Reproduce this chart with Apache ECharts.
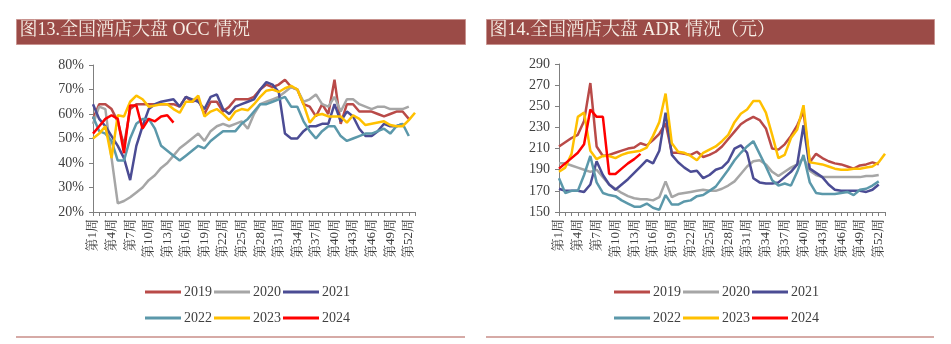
<!DOCTYPE html>
<html>
<head>
<meta charset="utf-8">
<script src="https://cdn.jsdelivr.net/npm/echarts@6/dist/echarts.min.js"></script>
<style>
  html, body { margin: 0; padding: 0; background: #fff; }
  #chart { width: 951px; height: 344px; }
</style>
</head>
<body>
<div id="chart"></div>
<script>
// Week categories (2023 runs to a 53rd week)
const weeks = Array.from({ length: 53 }, (_, i) => '第' + (i + 1) + '周');
const years = ['2019', '2020', '2021', '2022', '2023', '2024'];

// Hotel occupancy rate (OCC, %)
const occ2019 = [58,64,64,62,57,47,62,64,64,64,64,64,64,64,63,67,65,66,60,65,65,61,63,66,66,66,67,70,72,71,72,74,71,70,64,63,59,64,60,74,56,64,64,61,61,61,60,59,60,61,61,58];
const occ2020 = [56,63,62,42,23.5,24.5,26,28,30,33,35,38,40,43,46,48,50,52,49,53,55,56,55,56,57,54,60,64,65,66,67,69,71,70,65,66,68,64,63,67,61,66,66,64,63,62,63,63,62,62,62,63];
const occ2021 = [64,58,55,51,47,42,33,47,55,62,64,65,65.5,66,63,67,66,65,62,67,68,62,60,63,64,65,66,70,73,72,69,52,50,50,53,55,55,56,56,64,57,61,59,54,51,51,53,56,55,55,56];
const occ2022 = [59,53,52,49,41,41,50,56,58,58,54,47,45,43,41,43,45,47,46,49,51,53,53,53,56,58,61,64,64,65,66,67,63,63,57,53,50,53,55,55,51,49,50,51,52,52,53,54,52,55,56,51];
const occ2023 = [50,52,55,42,59.5,59,65,67.5,66,63,63.5,64,64,62,60.5,65,65,67.5,59,61,62,60,57.5,61,62,61.5,64,67,69.5,70,69,70.5,71.5,70,64,56.5,59.5,60,59,59,59,56.5,59.5,58,55.5,56,56.5,57,55.5,55,55,57.5,60.5];
const occ2024 = [52,55,58,59.5,58,44,63.5,63.5,54,58,57,59,59.5,56.5];

// Average daily rate (ADR, yuan)
const adr2019 = [212,216,220,223,236,272,212,203,204,206,208,210,211,215,213,218,224,234,206,206,205,204,207,202,204,207,212,219,226,233,237,240,237,229,210,209,214,222,232,245,197,205,201,198,196,195,193,191,194,195,197,195];
const adr2020 = [196,196,194,192,190,188,190,183,176,172,168,165,163,162,162,161,164,179,164,167,168,169,170,171,170,170,172,175,179,186,193,198,199,195,188,184,188,192,195,201,189,185,183,183,183,183,183,183,183,184,184,185];
const adr2021 = [172,170,170,170,169,176,198,185,176,171,176,181,187,193,199,196,208,244,204,197,192,188,189,182,185,190,192,198,210,213,206,182,178,177,177,178,183,188,195,232,191,187,183,176,171,170,170,170,170,169,171,176];
const adr2022 = [182,168,170,170,185,203,178,168,166,165,161,158,155,155,158,154,152,166,157,157,160,161,165,166,170,174,182,190,199,206,212,217,205,193,180,175,177,175,188,204,178,168,167,167,167,168,169,166,171,172,175,179];
const adr2023 = [188,192,205,240,244,208,200,203,203,201,204,206,207,208,211,222,235,262,215,207,206,203,199,206,209,212,217,223,235,243,247,255,255,244,223,201,204,220,228,251,197,196,195,193,191,190,190,191,191,192,193,197,205];
const adr2024 = [191,196,201,206,214,247,240,240,186,186,191,196,200,205];

// OCC y-axis range (%) and ADR y-axis range (yuan)
const occAxis = { min: 20, max: 80, step: 10 };
const adrAxis = { min: 150, max: 290, step: 20 };

const colors = ['#b94a48', '#a6a6a6', '#4b4c94', '#5b98aa', '#ffc000', '#ff0000'];
const occData = [occ2019, occ2020, occ2021, occ2022, occ2023, occ2024];
const adrData = [adr2019, adr2020, adr2021, adr2022, adr2023, adr2024];

const serif = "'Liberation Serif','Noto Serif CJK SC','Noto Sans CJK SC',serif";
const textColor = '#404040';
const axisColor = '#7f7f7f';

function xAxisFor(gridIndex) {
  return {
    type: 'category', gridIndex, data: weeks, boundaryGap: false,
    axisLine: { lineStyle: { color: axisColor, width: 1 } },
    axisTick: { show: true, interval: 0, length: 4, lineStyle: { color: axisColor } },
    axisLabel: { interval: 2, rotate: 90, margin: 7, color: textColor, fontSize: 13, fontFamily: serif },
    splitLine: { show: false }
  };
}
function yAxisFor(gridIndex, r, fmt) {
  return {
    type: 'value', gridIndex, min: r.min, max: r.max, interval: r.step,
    axisLine: { show: true, lineStyle: { color: axisColor, width: 1 } },
    axisTick: { show: true, length: 4, lineStyle: { color: axisColor } },
    axisLabel: { color: textColor, fontSize: 14, fontFamily: serif, margin: 9, formatter: fmt },
    splitLine: { show: false }
  };
}

const series = [];
years.forEach((y, i) => {
  series.push({ name: y, type: 'line', xAxisIndex: 0, yAxisIndex: 0, data: occData[i],
    symbol: 'none', lineStyle: { width: 2.5, color: colors[i] }, itemStyle: { color: colors[i] }, z: 2 + i });
});
years.forEach((y, i) => {
  series.push({ name: y, type: 'line', xAxisIndex: 1, yAxisIndex: 1, data: adrData[i],
    symbol: 'none', lineStyle: { width: 2.5, color: colors[i] }, itemStyle: { color: colors[i] }, z: 2 + i });
});

function legendRow(left, top, names) {
  return {
    left, top, data: names, orient: 'horizontal', icon: 'rect',
    itemWidth: 36, itemHeight: 3, itemGap: 2, selectedMode: false,
    textStyle: { color: textColor, fontSize: 14, fontFamily: serif, padding: [0, 0, 0, -2] }
  };
}

function titleBar(x, w, text) {
  return {
    type: 'group', left: x, top: 19,
    children: [
      { type: 'rect', shape: { x: 0, y: 0, width: w, height: 25 },
        style: { fill: '#9b4b47', stroke: '#c8938f', lineWidth: 1 } },
      { type: 'text', left: 3, top: 2,
        style: { text, fill: '#f7efe6', fontSize: 18, fontFamily: serif } }
    ]
  };
}

const option = {
  animation: false,
  backgroundColor: '#ffffff',
  grid: [
    { left: 93, top: 65, width: 322, height: 147 },
    { left: 559, top: 64, width: 326, height: 148 }
  ],
  xAxis: [xAxisFor(0), xAxisFor(1)],
  yAxis: [yAxisFor(0, occAxis, '{value}%'), yAxisFor(1, adrAxis, '{value}')],
  legend: [
    legendRow(140, 280, ['2019', '2020', '2021']),
    legendRow(140, 306, ['2022', '2023', '2024']),
    legendRow(609, 280, ['2019', '2020', '2021']),
    legendRow(609, 306, ['2022', '2023', '2024'])
  ],
  graphic: [
    titleBar(16, 449, '图13.全国酒店大盘 OCC 情况'),
    titleBar(486, 448, '图14.全国酒店大盘 ADR 情况（元）'),
    { type: 'rect', left: 16, top: 336, shape: { width: 449, height: 2 }, style: { fill: '#d6aaa6' } },
    { type: 'rect', left: 486, top: 336, shape: { width: 448, height: 2 }, style: { fill: '#d6aaa6' } }
  ],
  series
};

const chart = echarts.init(document.getElementById('chart'), null, { renderer: 'canvas' });
chart.setOption(option);
</script>
</body>
</html>
